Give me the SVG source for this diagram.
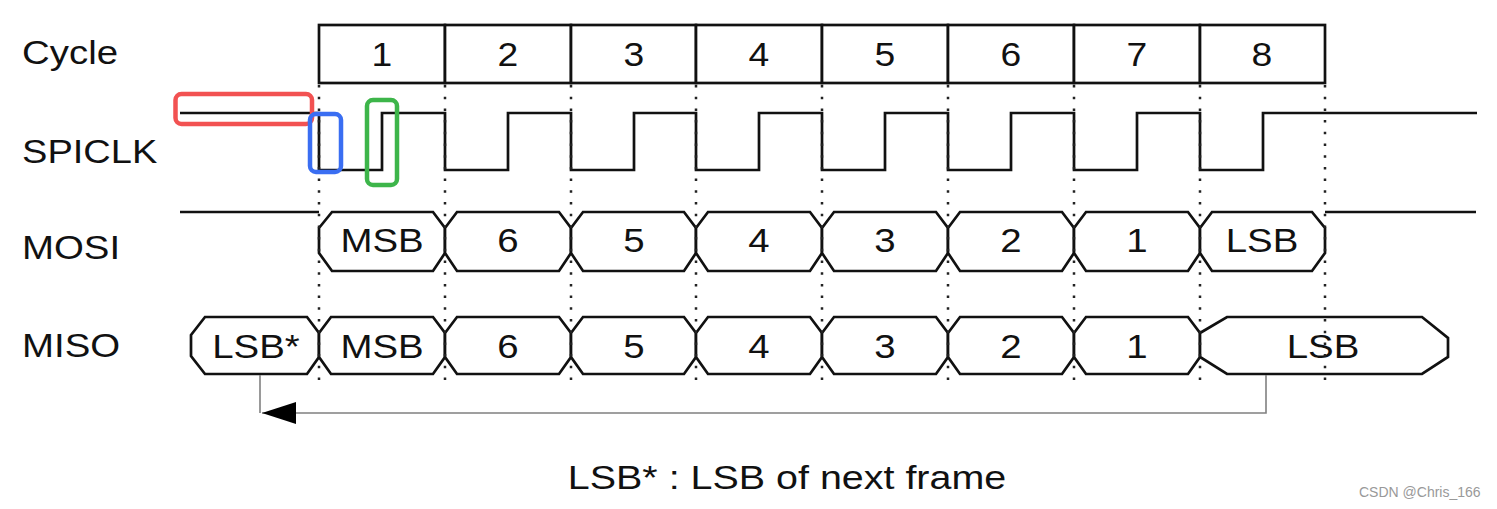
<svg xmlns="http://www.w3.org/2000/svg" width="1497" height="509" viewBox="0 0 1497 509">
<style>
.lbl{font-family:"Liberation Sans",Arial,sans-serif;font-size:34px;fill:#111}
.num{font-family:"Liberation Sans",Arial,sans-serif;font-size:33px;fill:#111;text-anchor:middle}
.cell{font-family:"Liberation Sans",Arial,sans-serif;font-size:34px;fill:#111;text-anchor:middle}
.wave{fill:none;stroke:#111;stroke-width:2.7;stroke-linejoin:miter}
.shape{fill:#fff;stroke:#111;stroke-width:2.7;stroke-linejoin:miter}
.box{fill:#fff;stroke:#111;stroke-width:2.7}
.dots{stroke:#222;stroke-width:2.5;stroke-dasharray:2.5 9.2;fill:none}
.hl{fill:none;stroke-width:4.5}
.conn{fill:none;stroke:#808080;stroke-width:1.6}
.wm{font-family:"Liberation Sans",Arial,sans-serif;font-size:14px;fill:#999}
</style>
<rect width="1497" height="509" fill="#fff"/>

<g id="labels">
<text class="lbl" transform="translate(22,64) scale(1.13,1)">Cycle</text>
<text class="lbl" transform="translate(22,163) scale(1.12,1)">SPICLK</text>
<text class="lbl" transform="translate(22,259) scale(1.13,1)">MOSI</text>
<text class="lbl" transform="translate(22,357) scale(1.13,1)">MISO</text>
</g>

<g id="cycles">
<g id="cycle1"><rect class="box" x="319" y="25" width="126" height="58"/><text class="num" transform="translate(382,66) scale(1.13,1)">1</text></g>
<g id="cycle2"><rect class="box" x="445" y="25" width="126" height="58"/><text class="num" transform="translate(508,66) scale(1.13,1)">2</text></g>
<g id="cycle3"><rect class="box" x="571" y="25" width="125" height="58"/><text class="num" transform="translate(634,66) scale(1.13,1)">3</text></g>
<g id="cycle4"><rect class="box" x="696" y="25" width="126" height="58"/><text class="num" transform="translate(759,66) scale(1.13,1)">4</text></g>
<g id="cycle5"><rect class="box" x="822" y="25" width="126" height="58"/><text class="num" transform="translate(885,66) scale(1.13,1)">5</text></g>
<g id="cycle6"><rect class="box" x="948" y="25" width="126" height="58"/><text class="num" transform="translate(1011,66) scale(1.13,1)">6</text></g>
<g id="cycle7"><rect class="box" x="1074" y="25" width="126" height="58"/><text class="num" transform="translate(1137,66) scale(1.13,1)">7</text></g>
<g id="cycle8"><rect class="box" x="1200" y="25" width="125" height="58"/><text class="num" transform="translate(1262,66) scale(1.13,1)">8</text></g>
</g>

<g id="spiclk">
<path class="wave" d="M180,113 H319 V170 H382 V113 H445 V170 H508 V113 H571 V170 H634 V113 H696 V170 H759 V113 H822 V170 H885 V113 H948 V170 H1011 V113 H1074 V170 H1137 V113 H1200 V170 H1263 V113 H1477"/>
</g>

<g id="mosi">
<path class="wave" d="M180,212 H319"/>
<path class="wave" d="M1325,212 H1476"/>
<g id="mosi-msb"><path class="shape" d="M319,228 L332,212 H433 L445,228 V253 L433,271 H332 L319,253 Z"/><text class="cell" transform="translate(382,252) scale(1.13,1)">MSB</text></g>
<g id="mosi-6"><path class="shape" d="M445,228 L457,212 H559 L571,228 V253 L559,271 H457 L445,253 Z"/><text class="cell" transform="translate(508,252) scale(1.13,1)">6</text></g>
<g id="mosi-5"><path class="shape" d="M571,228 L583,212 H684 L696,228 V253 L684,271 H583 L571,253 Z"/><text class="cell" transform="translate(634,252) scale(1.13,1)">5</text></g>
<g id="mosi-4"><path class="shape" d="M696,228 L708,212 H810 L822,228 V253 L810,271 H708 L696,253 Z"/><text class="cell" transform="translate(759,252) scale(1.13,1)">4</text></g>
<g id="mosi-3"><path class="shape" d="M822,228 L834,212 H936 L948,228 V253 L936,271 H834 L822,253 Z"/><text class="cell" transform="translate(885,252) scale(1.13,1)">3</text></g>
<g id="mosi-2"><path class="shape" d="M948,228 L960,212 H1062 L1074,228 V253 L1062,271 H960 L948,253 Z"/><text class="cell" transform="translate(1011,252) scale(1.13,1)">2</text></g>
<g id="mosi-1"><path class="shape" d="M1074,228 L1086,212 H1188 L1200,228 V253 L1188,271 H1086 L1074,253 Z"/><text class="cell" transform="translate(1137,252) scale(1.13,1)">1</text></g>
<g id="mosi-lsb"><path class="shape" d="M1200,228 L1212,212 H1312 L1325,228 V253 L1312,271 H1212 L1200,253 Z"/><text class="cell" transform="translate(1262,252) scale(1.13,1)">LSB</text></g>
</g>

<g id="miso">
<g id="miso-lsbstar"><path class="shape" d="M191,335 L205,317 H307 L319,333 V357 L307,374 H205 L191,356 Z"/><text class="cell" transform="translate(256,358) scale(1.13,1)">LSB*</text></g>
<g id="miso-msb"><path class="shape" d="M319,333 L331,317 H433 L445,333 V357 L433,374 H331 L319,357 Z"/><text class="cell" transform="translate(382,358) scale(1.13,1)">MSB</text></g>
<g id="miso-6"><path class="shape" d="M445,333 L457,317 H559 L571,333 V357 L559,374 H457 L445,357 Z"/><text class="cell" transform="translate(508,358) scale(1.13,1)">6</text></g>
<g id="miso-5"><path class="shape" d="M571,333 L583,317 H684 L696,333 V357 L684,374 H583 L571,357 Z"/><text class="cell" transform="translate(634,358) scale(1.13,1)">5</text></g>
<g id="miso-4"><path class="shape" d="M696,333 L708,317 H810 L822,333 V357 L810,374 H708 L696,357 Z"/><text class="cell" transform="translate(759,358) scale(1.13,1)">4</text></g>
<g id="miso-3"><path class="shape" d="M822,333 L834,317 H936 L948,333 V357 L936,374 H834 L822,357 Z"/><text class="cell" transform="translate(885,358) scale(1.13,1)">3</text></g>
<g id="miso-2"><path class="shape" d="M948,333 L960,317 H1062 L1074,333 V357 L1062,374 H960 L948,357 Z"/><text class="cell" transform="translate(1011,358) scale(1.13,1)">2</text></g>
<g id="miso-1"><path class="shape" d="M1074,333 L1086,317 H1188 L1200,333 V357 L1188,374 H1086 L1074,357 Z"/><text class="cell" transform="translate(1137,358) scale(1.13,1)">1</text></g>
<g id="miso-lsb"><path class="shape" d="M1200,333 L1227,317 H1422 L1448,338 V357 L1422,374 H1227 L1200,357 Z"/><text class="cell" transform="translate(1323,358) scale(1.13,1)">LSB</text></g>
</g>

<g id="gridlines">
<path class="dots" d="M319,85 V384 M445,85 V384 M571,85 V384 M696,85 V384 M822,85 V384 M948,85 V384 M1074,85 V384 M1200,85 V384 M1325,85 V384"/>
</g>

<g id="highlights">
<rect class="hl" x="175.5" y="94" width="136.5" height="30" rx="6" stroke="#f25252"/>
<rect class="hl" x="310" y="114" width="31" height="58" rx="6" stroke="#3a6ef2"/>
<rect class="hl" x="367" y="100" width="30" height="85" rx="6" stroke="#3db54a"/>
</g>

<g id="connectors">
<path class="conn" d="M1266,375 V413 H262"/>
<path class="conn" d="M260,375 V413"/>
<polygon points="262,413 296,402 296,424" fill="#000"/>
</g>

<g id="note">
<text class="cell" transform="translate(787,489) scale(1.16,1)">LSB* : LSB of next frame</text>
</g>
<text class="wm" x="1359" y="497">CSDN @Chris_166</text>
</svg>
